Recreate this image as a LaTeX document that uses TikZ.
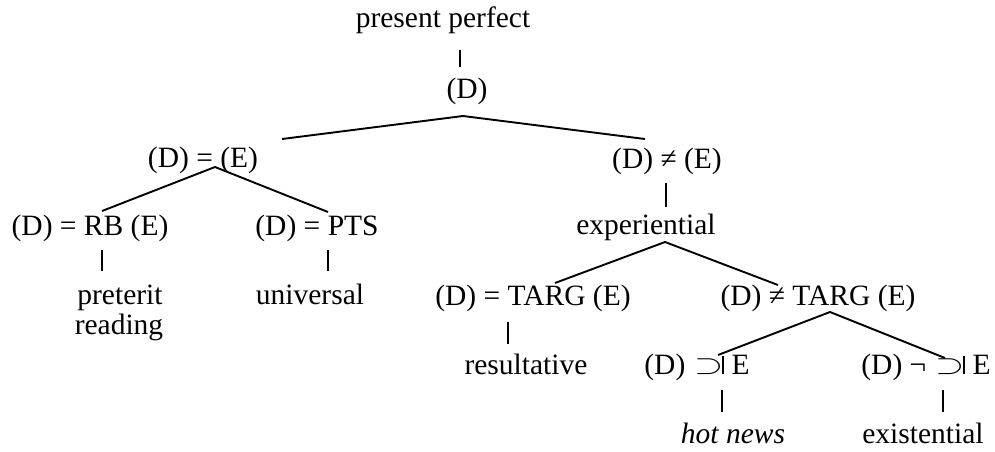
\documentclass[tikz,border=0pt]{standalone}
\usepackage{graphicx}
\usepackage{fontspec}
\setmainfont{Liberation Serif}
\newcommand{\supbar}{\kern0.05em\raisebox{0.03em}{\scalebox{1.3}[0.95]{\ensuremath{\supset}}}\kern-0.03em\rule[0em]{0.06em}{0.62em}}
\begin{document}
\begin{tikzpicture}[x=0.5pt,y=-0.5pt,
  lbl/.style={anchor=base, inner sep=0pt, font=\fontsize{14.75}{15}\selectfont},
  edge/.style={line width=0.95pt}]
\useasboundingbox (0,0) rectangle (995,451);
% labels
\node[lbl] (pp) at (443,27) {present perfect};
\node[lbl] (d0) at (467,98) {(D)};
\node[lbl] (de) at (203,167) {(D) = (E)};
\node[lbl] (dne) at (667,168) {(D) ≠ (E)};
\node[lbl] (rb) at (90,235) {(D) = RB (E)};
\node[lbl] (pts) at (317,235) {(D) = PTS};
\node[lbl] (pret) at (120,304) {preterit};
\node[lbl] (read) at (119,334) {reading};
\node[lbl] (univ) at (310,304) {universal};
\node[lbl] (exp) at (646,234) {experiential};
\node[lbl] (targ) at (533,305) {(D) = TARG (E)};
\node[lbl] (ntarg) at (818,305) {(D) ≠ TARG (E)};
\node[lbl] (res) at (526,374) {resultative};
\node[lbl] (sup) at (697,374) {(D) \supbar\ E};
\node[lbl] (nsup) at (926,374) {(D) ¬ \supbar\ E};
\node[lbl] (hot) at (733,443) {\itshape hot news};
\node[lbl] (exi) at (923,443) {existential};
% connector points
\coordinate (b1t) at (460,50);  \coordinate (b1b) at (460,67);
\coordinate (a0) at (463,116); \coordinate (a0l) at (282,139); \coordinate (a0r) at (645,139);
\coordinate (a1) at (215,167); \coordinate (a1l) at (102,211); \coordinate (a1r) at (328,212);
\coordinate (b2t) at (102,250); \coordinate (b2b) at (102,271);
\coordinate (b3t) at (328,250); \coordinate (b3b) at (328,271);
\coordinate (b4t) at (666,183); \coordinate (b4b) at (666,207);
\coordinate (a2) at (665,242); \coordinate (a2l) at (555,283); \coordinate (a2r) at (778,285);
\coordinate (b5t) at (508,322); \coordinate (b5b) at (508,344);
\coordinate (a3) at (830,312); \coordinate (a3l) at (718,355); \coordinate (a3r) at (945,358);
\coordinate (b6t) at (722,390); \coordinate (b6b) at (722,412);
\coordinate (b7t) at (943,390); \coordinate (b7b) at (943,412);
% connectors
\draw[edge] (b1t) -- (b1b);
\draw[edge] (a0l) -- (a0) -- (a0r);
\draw[edge] (a1l) -- (a1) -- (a1r);
\draw[edge] (b2t) -- (b2b);
\draw[edge] (b3t) -- (b3b);
\draw[edge] (b4t) -- (b4b);
\draw[edge] (a2l) -- (a2) -- (a2r);
\draw[edge] (b5t) -- (b5b);
\draw[edge] (a3l) -- (a3) -- (a3r);
\draw[edge] (b6t) -- (b6b);
\draw[edge] (b7t) -- (b7b);
\end{tikzpicture}
\end{document}
